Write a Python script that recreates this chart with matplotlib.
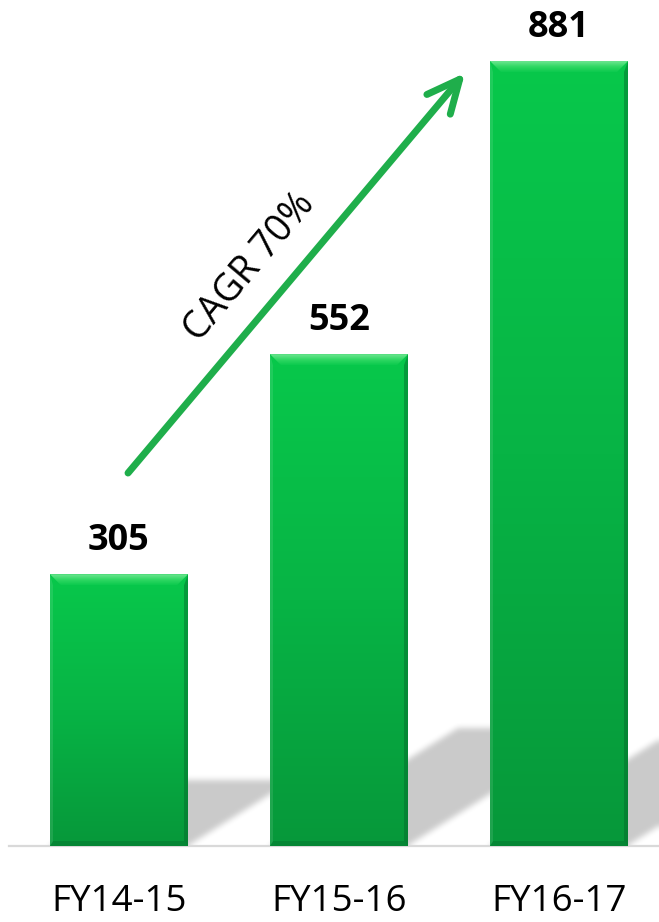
import numpy as np
import matplotlib
matplotlib.use("Agg")
import matplotlib.pyplot as plt
from matplotlib.patches import Polygon
from matplotlib.colors import LinearSegmentedColormap

# ---------------- data ----------------
categories = ["FY14-15", "FY15-16", "FY16-17"]
values = [305, 552, 881]
cagr_label = "CAGR 70%"

# ---------------- layout / style ----------------
W, H = 659, 922
BASE_PX = 846            # baseline position from top (px)
PX_PER_X = 220.0         # px per category step
X0_PX = 119.0            # px of first category
PX_PER_Y = 0.891         # px per value unit
FONT = "Open Sans"
GREEN_ARROW = "#1fae4b"

fig = plt.figure(figsize=(W / 100, H / 100), dpi=100)
ax = fig.add_axes([0, (H - BASE_PX) / H, 1, BASE_PX / H])
xlim = (-X0_PX / PX_PER_X, (W - X0_PX) / PX_PER_X)
ylim = (0, BASE_PX / PX_PER_Y)
ax.axis("off")

dxp = 1.0 / PX_PER_X     # data-x per pixel
dyp = 1.0 / PX_PER_Y     # data-y per pixel
bar_w = 138 * dxp
xs_pos = np.arange(len(categories))

# ---------------- shadows (blurred skewed parallelograms) ----------------
nx, ny = W, BASE_PX
gx = np.linspace(xlim[0], xlim[1], nx)
gy = np.linspace(ylim[0], ylim[1], ny)
GX, GY = np.meshgrid(gx, gy)
mask = np.zeros_like(GX)
skew = 1.6 * dxp / dyp   # data-x shift per data-y
for xi, v in zip(xs_pos, values):
    hs = 0.24 * v
    left = xi - bar_w / 2 + skew * GY
    right = xi + bar_w / 2 + skew * GY
    mask[(GY <= hs) & (GX >= left) & (GX <= right)] = 1.0


def blur1d(a, r, axis):
    a = np.moveaxis(a, axis, -1)
    pad = [(0, 0)] * (a.ndim - 1) + [(r + 1, r)]
    p = np.pad(a, pad, mode="edge")
    c = np.cumsum(p, axis=-1)
    out = (c[..., 2 * r + 1:] - c[..., :-2 * r - 1]) / (2 * r + 1)
    return np.moveaxis(out, -1, axis)


sm = mask
for _ in range(2):
    sm = blur1d(sm, 3, 0)
    sm = blur1d(sm, 3, 1)
rgba = np.zeros((ny, nx, 4))
rgba[..., 3] = 0.21 * sm
ax.imshow(rgba, origin="lower", extent=(xlim[0], xlim[1], ylim[0], ylim[1]),
          aspect="auto", zorder=1, interpolation="bilinear")

# ---------------- baseline ----------------
ax.axhline(0, xmin=9 / W, xmax=1, color="#d9d9d9", lw=1.6, zorder=2, clip_on=False)

# ---------------- bars with gradient + bevel ----------------
body_cmap = LinearSegmentedColormap.from_list("body", ["#06983a", "#07b445", "#08c84b"])
top_cmap = LinearSegmentedColormap.from_list("top", ["#0cca4e", "#30d864", "#6fe692"])
bars = ax.bar(xs_pos, values, width=bar_w, color="none", edgecolor="none", zorder=3)
grad = np.linspace(0, 1, 256).reshape(-1, 1)
for rect in bars:
    x, y0 = rect.get_x(), rect.get_y()
    w, h = rect.get_width(), rect.get_height()
    im = ax.imshow(grad, cmap=body_cmap, origin="lower", extent=(x, x + w, y0, y0 + h),
                   aspect="auto", zorder=3, interpolation="bilinear")
    bx, by = 11 * dxp, 11 * dyp
    # top bevel
    top_poly = Polygon([(x, h), (x + w, h), (x + w - bx, h - by), (x + bx, h - by)],
                       closed=True, facecolor="none", edgecolor="none", zorder=4)
    ax.add_patch(top_poly)
    imt = ax.imshow(grad, cmap=top_cmap, origin="lower", extent=(x, x + w, h - by, h),
                    aspect="auto", zorder=4, interpolation="bilinear")
    imt.set_clip_path(top_poly)
    # left bevel (slightly light)
    ax.add_patch(Polygon([(x, h), (x + 3 * dxp, h - by), (x + 3 * dxp, 4 * dyp), (x, 0)],
                         closed=True, facecolor="#ffffff", alpha=0.10, edgecolor="none", zorder=4))
    # right bevel (dark)
    ax.add_patch(Polygon([(x + w, h), (x + w, 0), (x + w - 4 * dxp, 5 * dyp), (x + w - 4 * dxp, h - by)],
                         closed=True, facecolor="#04662a", alpha=0.45, edgecolor="none", zorder=4))
    # bottom bevel (dark)
    ax.add_patch(Polygon([(x, 0), (x + w, 0), (x + w - 4 * dxp, 5 * dyp), (x + 3 * dxp, 5 * dyp)],
                         closed=True, facecolor="#04662a", alpha=0.35, edgecolor="none", zorder=4))

# ---------------- value labels ----------------
for xi, v in zip(xs_pos, values):
    ax.annotate(str(v), xy=(xi, v), xytext=(0, 24 * 0.72), textcoords="offset points",
                ha="center", va="baseline", fontsize=26, fontweight="bold",
                family=FONT, color="#000000", zorder=6)

# ---------------- category labels ----------------
for xi, c in zip(xs_pos, categories):
    ax.annotate(c, xy=(xi, 0), xytext=(0, -65 * 0.72), textcoords="offset points",
                ha="center", va="baseline", fontsize=26.5, family=FONT,
                color="#000000", annotation_clip=False)

# ---------------- CAGR arrow ----------------
arrow_start = (0.041, 418.6)
arrow_end = (1.5727, 867.6)
ax.annotate("", xy=arrow_end, xytext=arrow_start,
            arrowprops=dict(arrowstyle="->,head_length=1.18,head_width=0.55",
                            mutation_scale=20, lw=5, color=GREEN_ARROW,
                            shrinkA=0, shrinkB=0, capstyle="round", joinstyle="round"),
            zorder=5)
ax.text(0.595, 649.8, cagr_label, rotation=49.9, rotation_mode="anchor",
        ha="center", va="center", fontsize=27, family=FONT, color="#000000", zorder=6)

ax.set_xlim(xlim)
ax.set_ylim(ylim)
fig.savefig("out.png", dpi=100, facecolor="white")
